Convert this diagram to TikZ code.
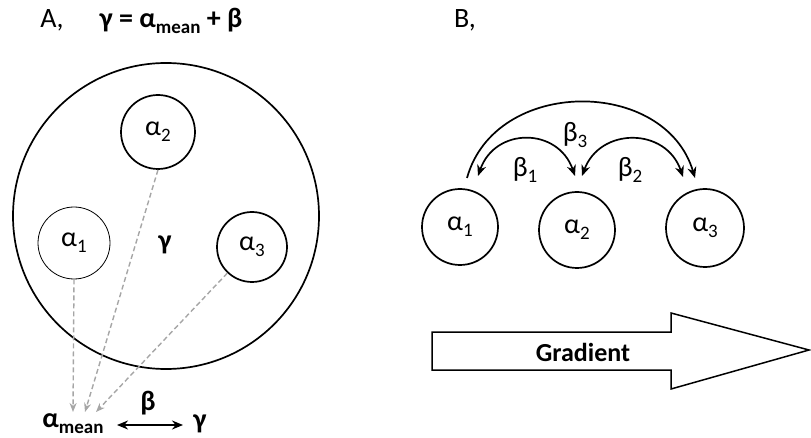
\documentclass[tikz,border=0pt]{standalone}
\usepackage{fontspec}
\setmainfont{Carlito}
\usetikzlibrary{arrows.meta}
\newcommand{\sbs}[1]{\raisebox{-0.45ex}{\fontsize{19}{21}\selectfont #1}}
\begin{document}
\begin{tikzpicture}[x=1pt,y=-1pt,
  txt/.style={font=\fontsize{28}{32}\selectfont, inner sep=0pt},
  btxt/.style={font=\fontsize{28}{32}\selectfont\bfseries, inner sep=0pt},
  circ/.style={circle, draw, line width=1.7pt, inner sep=0pt, font=\fontsize{28}{32}\selectfont},
  thin circ/.style={circ, line width=0.8pt},
  dsh/.style={draw=black!35, dash pattern=on 5pt off 3pt, line width=1.4pt, -{Stealth[length=9pt,width=7pt]}},
  arcline/.style={line width=1.7pt},
  tip/.style={-{Stealth[length=11pt,width=9pt]}},
  tips/.style={{Stealth[length=11pt,width=9pt]}-{Stealth[length=11pt,width=9pt]}}
]
\useasboundingbox (0,0) rectangle (811,438);

% Panel A
\node[txt] (labA) at (52,20) {A,};
\node[btxt] (eqA) at (171,21) {γ = α\sbs{mean} + β};
\node[circle, draw, line width=1.7pt, minimum size=306pt, inner sep=0pt] (big) at (166,216) {};
\node[circ, minimum size=74pt] (a2) at (158,132) {α\sbs{2}};
\node[thin circ, minimum size=72pt] (a1) at (74,243) {α\sbs{1}};
\node[circ, minimum size=70pt] (a3) at (252,247) {α\sbs{3}};
\node[btxt] (gam) at (165,245) {γ};

\node[btxt] (amean) at (73,424) {α\sbs{mean}};
\node[btxt] (bet) at (148,403) {β};
\node[btxt] (gam2) at (200,424) {γ};
\coordinate (t1) at (73,412);
\coordinate (t2) at (85,412);
\coordinate (t3) at (96,412);
\draw[dsh] (a1.south) -- (t1);
\draw[dsh] (a2.south) -- (t2);
\draw[dsh] (a3) -- (t3);
\draw[arcline, tips] (117,425) -- (183,425);

% Panel B
\node[txt] (labB) at (465,20) {B,};
\node[circ, minimum size=76pt] (b1) at (460,227) {α\sbs{1}};
\node[circ, minimum size=76pt] (b2) at (577,230) {α\sbs{2}};
\node[circ, minimum size=78pt] (b3) at (705,228) {α\sbs{3}};

\coordinate (p0) at (467,178);
\coordinate (p3) at (695,178);
\coordinate (q0) at (478,176);
\coordinate (q1) at (575,176);
\coordinate (r0) at (582,176);
\coordinate (r1) at (683,177);
\draw[arcline, tip] (p0) .. controls (495,77) and (665,77) .. (p3);
\draw[arcline, tips] (q0) .. controls (495,127) and (558,127) .. (q1);
\draw[arcline, tips] (r0) .. controls (600,127) and (666,127) .. (r1);
\node[txt] (bb3) at (575,135) {β\sbs{3}};
\node[txt] (bb1) at (525,170) {β\sbs{1}};
\node[txt] (bb2) at (630,170) {β\sbs{2}};

\draw[line width=1.5pt, line join=miter] (432,332) -- (671,332) -- (671,313) -- (809,350) -- (671,389) -- (671,370) -- (432,370) -- cycle;
\node[btxt, font=\fontsize{26}{30}\selectfont\bfseries] (grad) at (583,352) {Gradient};
\end{tikzpicture}
\end{document}
